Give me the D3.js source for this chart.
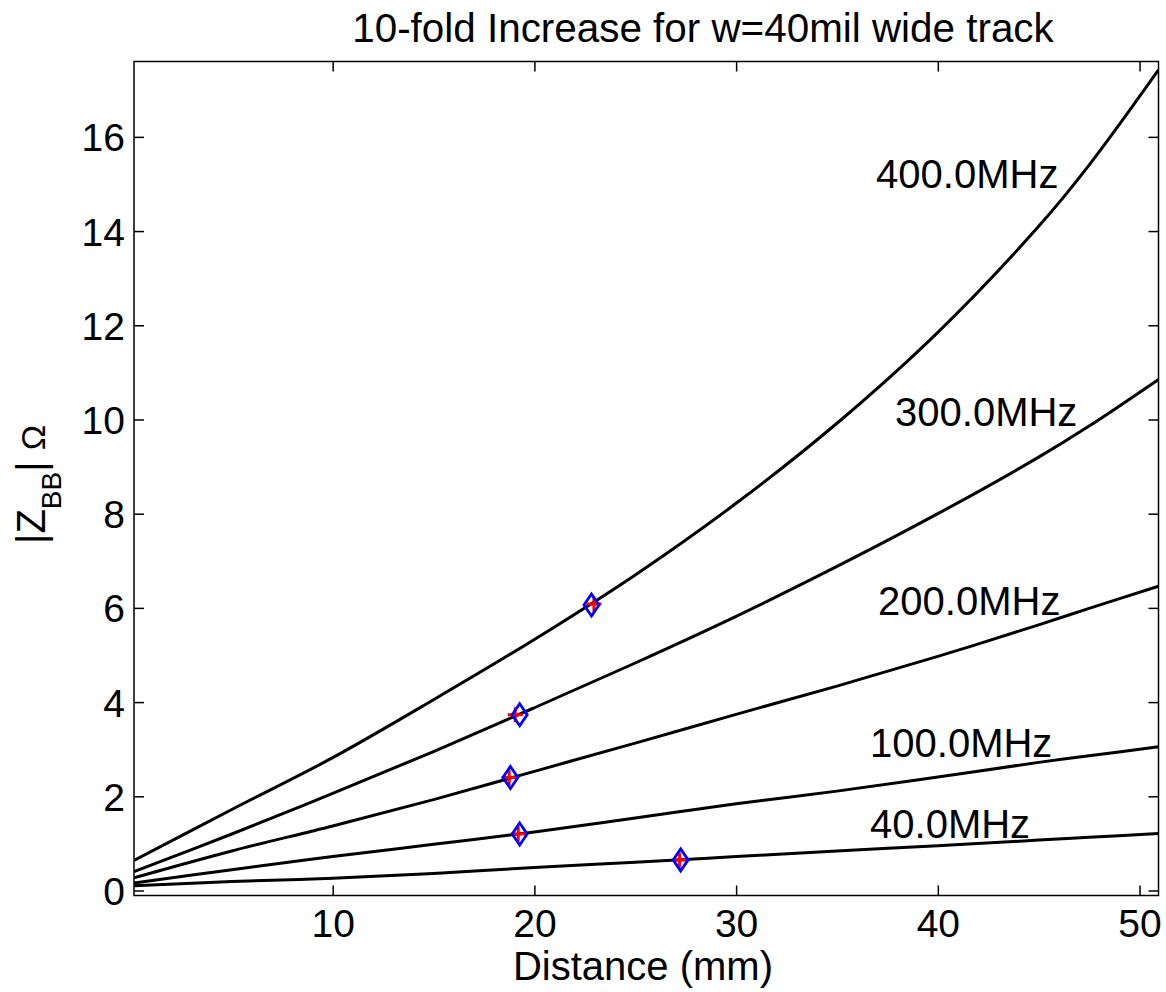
<!DOCTYPE html>
<html>
<head>
<meta charset="utf-8">
<script src="https://cdn.jsdelivr.net/npm/d3@7"></script>
<style>
  html, body { margin: 0; padding: 0; background: #fff; }
  svg { display: block; font-family: "Liberation Sans", Arial, sans-serif; }
</style>
</head>
<body>
<svg id="chart" width="1166" height="992"></svg>
<script>
// Distance along the track (mm) at which |Z_BB| is sampled
const distance = [0.15, 5, 10, 15, 20, 25, 30, 35, 40, 45, 47.5, 50.94];

// |Z_BB| (ohm) for each frequency
const z400 = [0.64, 1.72, 2.82, 4.05, 5.33, 6.70, 8.22, 9.92, 11.85, 14.10, 15.40, 17.42];
const z300 = [0.40, 1.20, 2.06, 2.95, 3.88, 4.83, 5.82, 6.88, 8.00, 9.20, 9.86, 10.85];
const z200 = [0.27, 0.84, 1.37, 1.93, 2.53, 3.13, 3.74, 4.34, 4.97, 5.64, 5.99, 6.46];
const z100 = [0.16, 0.44, 0.72, 0.98, 1.24, 1.54, 1.84, 2.11, 2.41, 2.72, 2.86, 3.05];
const z40  = [0.10, 0.19, 0.26, 0.36, 0.49, 0.60, 0.72, 0.84, 0.95, 1.07, 1.13, 1.21];

const seriesNames = ["400.0MHz", "300.0MHz", "200.0MHz", "100.0MHz", "40.0MHz"];
const seriesValues = [z400, z300, z200, z100, z40];

// Curve label anchors (distance mm, |Z| ohm at text baseline)
const labelDistance = [36.94, 37.88, 37.04, 36.64, 36.64];
const labelZ = [14.92, 9.86, 5.85, 2.84, 1.11];

// 10-fold increase points: diamonds and crosses
const diamondDistance = [22.83, 19.27, 18.81, 19.27, 27.25];
const diamondZ = [6.06, 3.73, 2.40, 1.20, 0.65];
const crossDistance = [22.95, 19.05, 18.75, 19.20, 27.20];
const crossZ = [6.08, 3.73, 2.40, 1.20, 0.65];

// Axis ticks
const xTicks = [10, 20, 30, 40, 50];
const yTicks = [0, 2, 4, 6, 8, 10, 12, 14, 16];
const xDomain = [0.15, 50.94];
const yDomain = [-0.106, 17.6];

const plotLeft = 134, plotRight = 1158.5, plotTop = 61.5, plotBottom = 895.5;

const svg = d3.select("#chart");
const x = d3.scaleLinear().domain(xDomain).range([plotLeft, plotRight]);
const y = d3.scaleLinear().domain(yDomain).range([plotBottom, plotTop]);

svg.append("defs").append("clipPath").attr("id", "plotClip")
  .append("rect").attr("x", plotLeft).attr("y", plotTop)
  .attr("width", plotRight - plotLeft).attr("height", plotBottom - plotTop);

const tickLen = 10;
const axisFont = 39;

// Axes with inward ticks on all four sides
const axisBottom = d3.axisBottom(x).tickValues(xTicks).tickSize(-tickLen).tickPadding(14).tickFormat(d3.format("d"));
const axisTop = d3.axisTop(x).tickValues(xTicks).tickSize(-tickLen).tickFormat("");
const axisLeft = d3.axisLeft(y).tickValues(yTicks).tickSize(-tickLen).tickPadding(9).tickFormat(d3.format("d"));
const axisRight = d3.axisRight(y).tickValues(yTicks).tickSize(-tickLen).tickFormat("");

function styleAxis(g) {
  g.select(".domain").remove();
  g.selectAll(".tick line").attr("stroke", "#000").attr("stroke-width", 1.5);
  g.selectAll(".tick text").attr("fill", "#000").attr("font-size", axisFont)
    .attr("font-family", "Liberation Sans, Arial, sans-serif");
}

svg.append("g").attr("transform", `translate(0,${plotBottom})`).call(axisBottom).call(styleAxis)
  .selectAll(".tick text").attr("dy", "0.71em");
svg.append("g").attr("transform", `translate(0,${plotTop})`).call(axisTop).call(styleAxis);
svg.append("g").attr("transform", `translate(${plotLeft},0)`).call(axisLeft).call(styleAxis)
  .selectAll(".tick text").attr("dy", "0.36em");
svg.append("g").attr("transform", `translate(${plotRight},0)`).call(axisRight).call(styleAxis);

// Curves
const line = d3.line()
  .x((d, i) => x(distance[i]))
  .y(d => y(d))
  .curve(d3.curveCatmullRom.alpha(0.5));

svg.append("g").attr("clip-path", "url(#plotClip)")
  .selectAll("path").data(seriesValues).join("path")
  .attr("d", line)
  .attr("fill", "none")
  .attr("stroke", "#000")
  .attr("stroke-width", 3)
  .attr("stroke-linejoin", "round");

// Curve labels
svg.append("g").selectAll("text").data(seriesNames).join("text")
  .attr("x", (d, i) => x(labelDistance[i]))
  .attr("y", (d, i) => y(labelZ[i]))
  .attr("font-size", 40)
  .attr("fill", "#000")
  .text(d => d);

// Red crosses
const cs = 7.5;
svg.append("g").selectAll("path").data(crossDistance).join("path")
  .attr("d", (d, i) => {
    const cx = x(d), cy = y(crossZ[i]);
    return `M${cx - cs},${cy}H${cx + cs}M${cx},${cy - cs}V${cy + cs}`;
  })
  .attr("stroke", "#ff0000").attr("stroke-width", 3).attr("fill", "none");

// Blue diamonds
const dh = 11, dw = 7.5;
svg.append("g").selectAll("path").data(diamondDistance).join("path")
  .attr("d", (d, i) => {
    const cx = x(d), cy = y(diamondZ[i]);
    return `M${cx},${cy - dh}L${cx + dw},${cy}L${cx},${cy + dh}L${cx - dw},${cy}Z`;
  })
  .attr("fill", "none").attr("stroke", "#0000ff").attr("stroke-width", 2.8);

// Plot frame
svg.append("rect").attr("x", plotLeft).attr("y", plotTop)
  .attr("width", plotRight - plotLeft).attr("height", plotBottom - plotTop)
  .attr("fill", "none").attr("stroke", "#000").attr("stroke-width", 1.5);

// Title
svg.append("text").attr("x", 703).attr("y", 42).attr("text-anchor", "middle")
  .attr("font-size", 40.4).attr("fill", "#000")
  .text("10-fold Increase for w=40mil wide track");

// X label
svg.append("text").attr("x", 643).attr("y", 980).attr("text-anchor", "middle")
  .attr("font-size", 40).attr("fill", "#000")
  .text("Distance (mm)");

// Y label: |Z_BB| Ω
const yl = svg.append("text").attr("transform", "translate(45,544) rotate(-90)")
  .attr("font-size", 40).attr("fill", "#000");
yl.append("tspan").text("|Z");
yl.append("tspan").attr("font-size", 28).attr("dy", 16).text("BB");
yl.append("tspan").attr("dy", -16).text("| ");
yl.append("tspan").attr("font-size", 34).text("Ω");
</script>
</body>
</html>
